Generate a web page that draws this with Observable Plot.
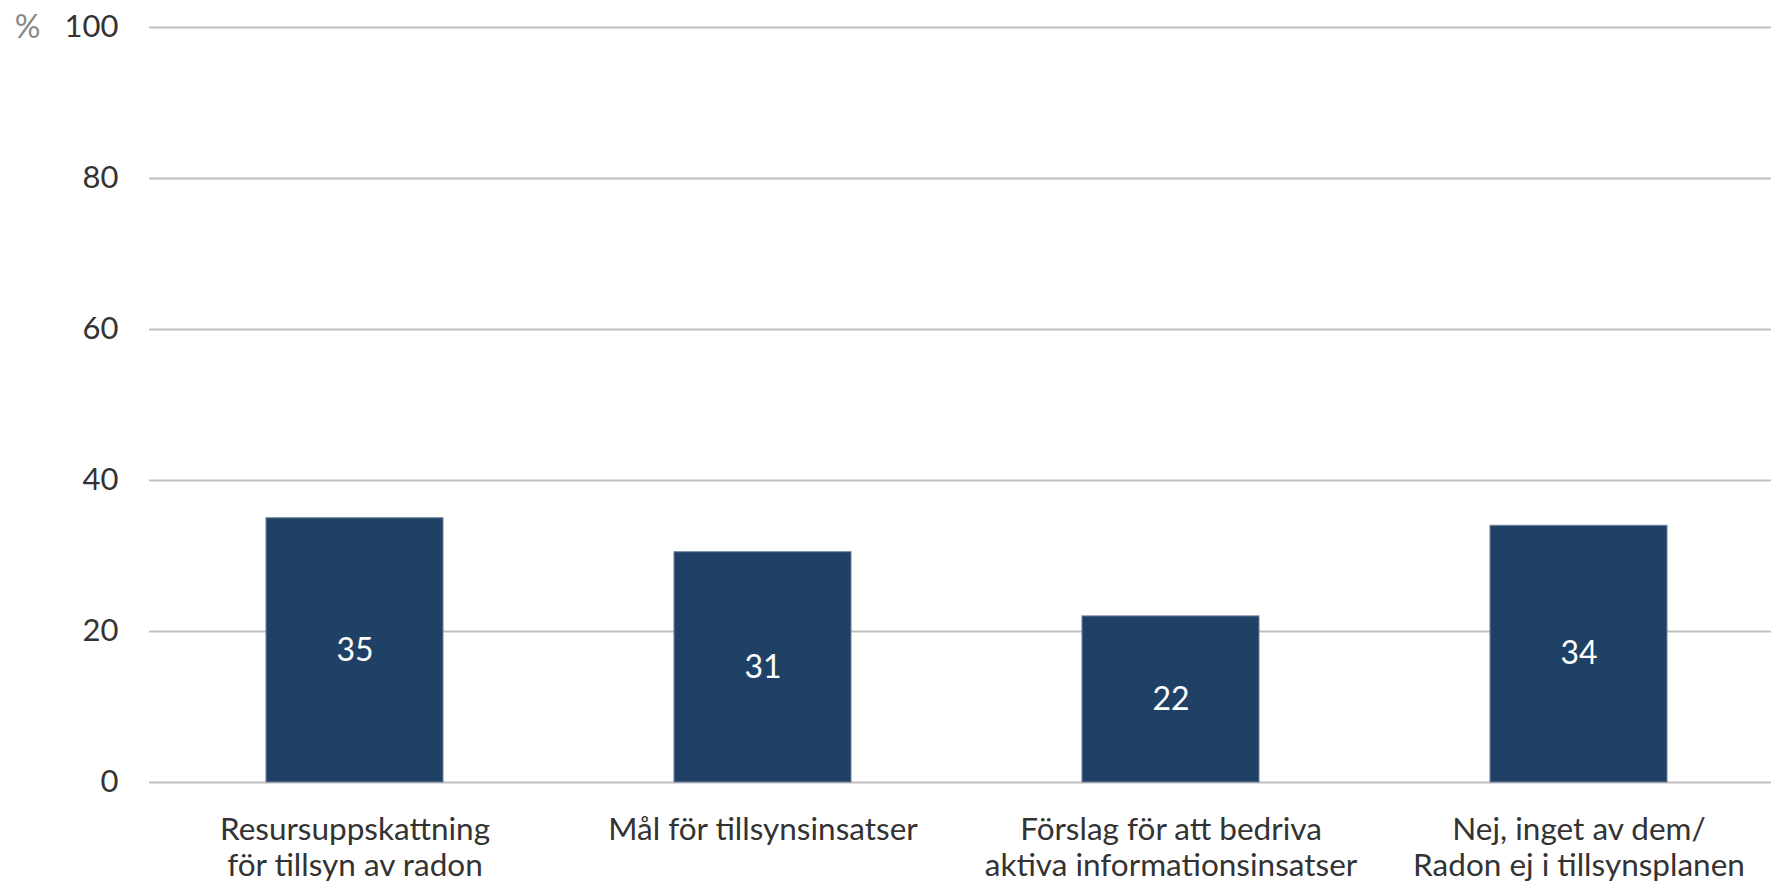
<!DOCTYPE html>
<html>
<head>
<meta charset="utf-8">
<script src="https://cdn.jsdelivr.net/npm/d3@7"></script>
<script src="https://cdn.jsdelivr.net/npm/@observablehq/plot@0.6"></script>
<style>
  html, body { margin: 0; padding: 0; background: #fff; }
  #chart svg { display: block; }
</style>
</head>
<body>
<div id="chart"></div>
<script>
const categories = [
  "Resursuppskattning\nför tillsyn av radon",
  "Mål för tillsynsinsatser",
  "Förslag för att bedriva\naktiva informationsinsatser",
  "Nej, inget av dem/\nRadon ej i tillsynsplanen"
];
const values = [35, 30.5, 22, 34];
const yTicks = [0, 20, 40, 60, 80, 100];
const unitLabel = "%";

const data = categories.map((c, i) => ({category: c, value: values[i]}));

const chart = Plot.plot({
  width: 1771,
  height: 883,
  marginLeft: 149,
  marginRight: 0,
  marginTop: 27,
  marginBottom: 101,
  style: {fontFamily: "Lato, sans-serif", background: "#fff", color: "#333"},
  x: {domain: categories, paddingInner: 0.5655, paddingOuter: 0.266, align: 0.53},
  y: {domain: [0, 100]},
  marks: [
    Plot.ruleY(yTicks, {stroke: "#c0c0c0", strokeWidth: 2}),
    Plot.barY(data, {x: "category", y: "value", fill: "#1f4166", stroke: "#6f829b", strokeWidth: 1}),
    Plot.text(data, {x: "category", y: d => d.value / 2, text: d => String(Math.round(d.value)), fill: "#fff", fontSize: 32, lineAnchor: "middle"}),
    Plot.axisY({ticks: yTicks, tickSize: 0, tickPadding: 31, fontSize: 31, label: null, fill: "#333"}),
    Plot.axisX({tickSize: 0, tickPadding: 32, fontSize: 31.5, lineHeight: 1.15, label: null, fill: "#333"}),
    Plot.text([unitLabel], {frameAnchor: "top-left", dx: -122, textAnchor: "middle", lineAnchor: "middle", fontSize: 32, fill: "#888"})
  ]
});
document.getElementById("chart").appendChild(chart);
</script>
</body>
</html>
